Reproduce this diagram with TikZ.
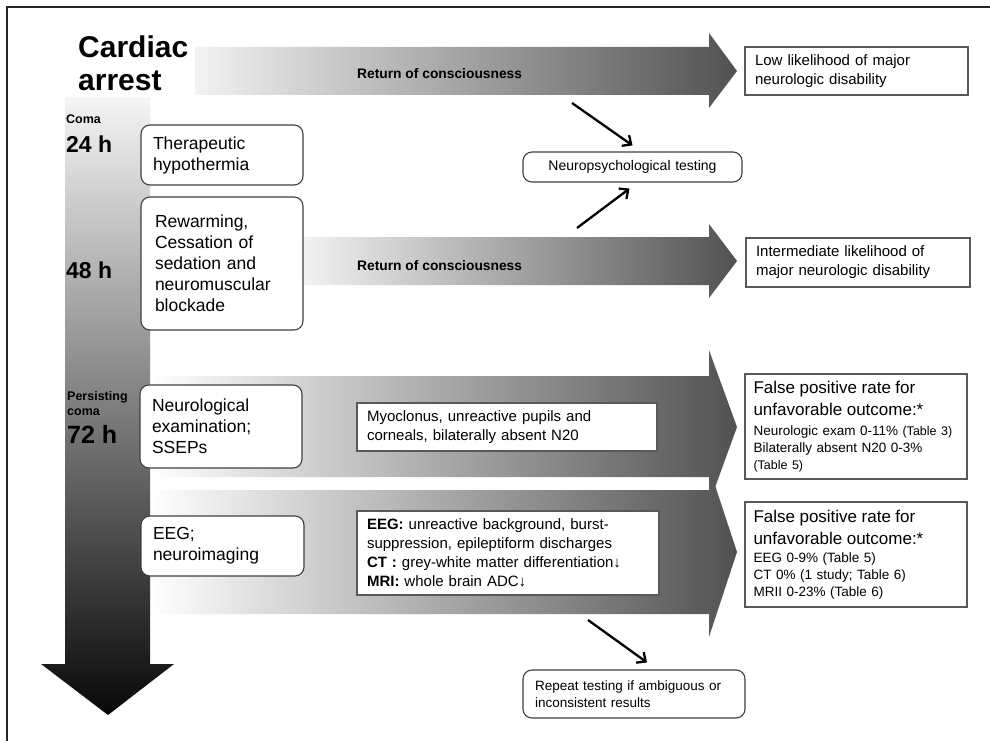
\documentclass[tikz,border=0pt]{standalone}
\usepackage{fontspec}
\setmainfont{Liberation Sans}
\usetikzlibrary{arrows.meta}

\tikzset{
	roundBox/.style={draw=black!75, line width=1.1pt, rounded corners=9pt, fill=white, align=left, inner xsep=12pt, inner ysep=0pt},
	plainBox/.style={draw=black!65, line width=1.1pt, fill=white, align=left, inner xsep=10pt, inner ysep=0pt},
	bigArrow/.style={left color=black!5, right color=black!68},
	thinArrow/.style={-{Straight Barb[length=7pt,width=13pt]}, line width=2.3pt, black},
	timeLabel/.style={anchor=base west, inner sep=0pt, font=\bfseries\fontsize{23}{26}\selectfont}
}

\begin{document}
\begin{tikzpicture}[x=1pt,y=-1pt] % picture in pixel units, y downwards
		\newcommand{\leftBoxFont}{\fontsize{17.5}{21}\selectfont}
		\newcommand{\noteFont}{\fontsize{15}{19}\selectfont}
		\newcommand{\smallFont}{\fontsize{13.5}{17}\selectfont}
		\newcommand{\tipX}{737}
		\newcommand{\neckX}{709}
		
		\useasboundingbox (0,0) rectangle (990,741);
		\fill[white] (0,0) rectangle (990,741);		% background
		\draw[line width=2.5pt, black!85] (7,741) -- (7,7) -- (990,7);	% frame
		
		% horizontal arrows
		\shade[bigArrow] (195,47) -- (\neckX,47) -- (\neckX,33) -- (\tipX,71) -- (\neckX,108) -- (\neckX,95) -- (195,95) -- cycle;
		\shade[bigArrow] (303,237) -- (\neckX,237) -- (\neckX,224) -- (\tipX,261) -- (\neckX,298) -- (\neckX,285) -- (303,285) -- cycle;
		\shade[bigArrow, left color=white] (150,376) -- (\neckX,376) -- (\neckX,350) -- (\tipX,427) -- (\neckX,504) -- (\neckX,477) -- (150,477) -- cycle;
		\shade[bigArrow, left color=white] (150,490) -- (\neckX,490) -- (\neckX,467) -- (\tipX,552) -- (\neckX,637) -- (\neckX,614) -- (150,614) -- cycle;
		
		% time arrow
		\shade[top color=black!4, middle color=black!45, bottom color=black!97] (65,97) -- (150,97) -- (150,664) -- (174,664) -- (108,715) -- (41,664) -- (65,664) -- cycle;
		
		\node[anchor=north west, inner sep=0pt, align=left, font=\bfseries\fontsize{30}{33}\selectfont] (title) at (78,36) {Cardiac\\arrest};
		\node[anchor=base west, inner sep=0pt, font=\bfseries\fontsize{12.5}{15}\selectfont] (coma) at (66,124) {Coma};
		\node[timeLabel] (t24) at (66,152) {24 h};
		\node[timeLabel] (t48) at (66,278) {48 h};
		\node[anchor=north west, inner sep=0pt, align=left, font=\bfseries\fontsize{12.5}{15}\selectfont] (persist) at (67,391) {Persisting\\coma};
		\node[timeLabel, font=\bfseries\fontsize{25}{28}\selectfont] (t72) at (67,443) {72 h};
		
		\node[anchor=base west, inner sep=0pt, font=\bfseries\fontsize{13.8}{16}\selectfont] (return1) at (357,79) {Return of consciousness};
		\node[anchor=base west, inner sep=0pt, font=\bfseries\fontsize{13.8}{16}\selectfont] (return2) at (357,270) {Return of consciousness};
		
		% steps on the left
		\node[roundBox, text width=138pt, minimum height=60pt, font=\leftBoxFont] (therm) at (222,155) {Therapeutic\\hypothermia};
		\node[roundBox, text width=134pt, inner xsep=14pt, minimum height=133pt, font=\leftBoxFont] (rewarm) at (222,263.5) {Rewarming,\\Cessation of\\sedation and\\neuromuscular\\blockade};
		\node[roundBox, text width=138pt, minimum height=83pt, font=\leftBoxFont] (neuroExam) at (221,426.5) {Neurological\\examination;\\SSEPs};
		\node[roundBox, text width=139pt, minimum height=60pt, font=\leftBoxFont] (eegImg) at (222.5,546) {EEG;\\neuroimaging};
		
		% findings
		\node[plainBox, text width=280pt, minimum height=48pt, font=\noteFont] (myo) at (507,427) {Myoclonus, unreactive pupils and\\corneals, bilaterally absent N20};
		\node[plainBox, text width=282pt, minimum height=84pt, font=\noteFont] (eegRes) at (508,553) {\textbf{EEG:} unreactive background, burst-\\suppression, epileptiform discharges\\\textbf{CT :} grey-white matter differentiation↓\\\textbf{MRI:} whole brain ADC↓};
		
		% outcomes
		\node[plainBox, text width=203pt, minimum height=48pt, font=\noteFont] (low) at (856.5,71) {Low likelihood of major\\neurologic disability};
		\node[plainBox, text width=204pt, minimum height=49pt, font=\noteFont] (inter) at (858,262.5) {Intermediate likelihood of\\major neurologic disability};
		\node[plainBox, text width=205pt, inner xsep=8.5pt, minimum height=105pt, font=\smallFont] (fprExam) at (856,426.5) {{\fontsize{17}{22}\selectfont False positive rate for}\\[5pt]{\fontsize{17}{22}\selectfont unfavorable outcome:*}\\[3pt]Neurologic exam 0-11\% {\fontsize{12.5}{17}\selectfont(Table 3)}\\Bilaterally absent N20 0-3\%\\{\fontsize{12.5}{17}\selectfont(Table 5)}};
		\node[plainBox, text width=205pt, inner xsep=8.5pt, minimum height=105pt, font=\smallFont] (fprImg) at (856,554.5) {{\fontsize{17}{22}\selectfont False positive rate for}\\[5pt]{\fontsize{17}{22}\selectfont unfavorable outcome:*}\\[1pt]EEG 0-9\% (Table 5)\\CT 0\% (1 study; Table 6)\\MRII 0-23\% (Table 6)};
		
		% testing
		\node[roundBox, text width=195pt, minimum height=30pt, align=center, font=\fontsize{14}{17}\selectfont] (psych) at (632.5,167) {Neuropsychological testing};
		\node[roundBox, text width=198pt, minimum height=48pt, font=\smallFont] (repeat) at (634,694) {Repeat testing if ambiguous or\\inconsistent results};
		
		\coordinate (fromTop) at (572,103);
		\coordinate (fromMid) at (577,228);
		\coordinate (fromImg) at (588,620);
		\draw[thinArrow] (fromTop) -- ([yshift=6pt]psych.north);
		\draw[thinArrow] (fromMid) -- ([xshift=-3pt,yshift=-6pt]psych.south);
		\draw[thinArrow] (fromImg) -- ([xshift=13pt,yshift=7pt]repeat.north);
\end{tikzpicture}
\end{document}
